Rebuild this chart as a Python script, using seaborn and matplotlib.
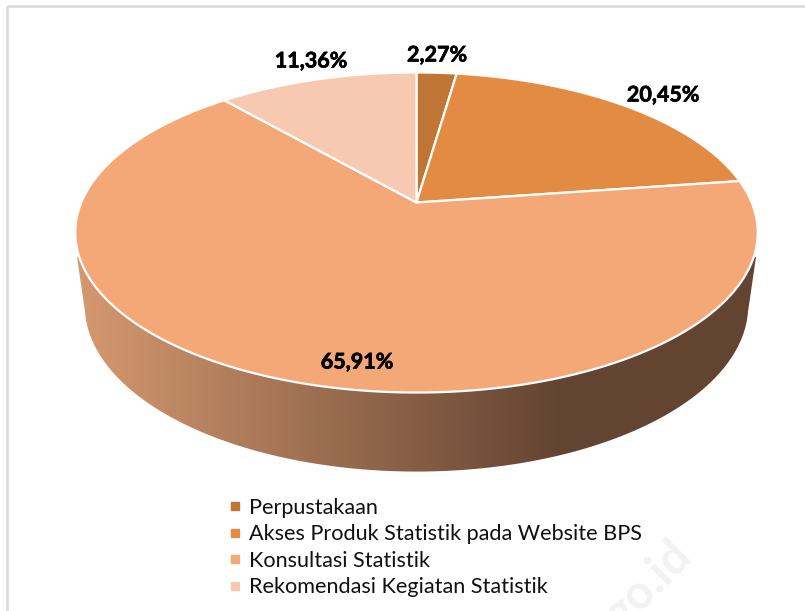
import numpy as np
import matplotlib
matplotlib.use("Agg")
import matplotlib.pyplot as plt
import matplotlib.patheffects as pe
import seaborn as sns
from matplotlib.lines import Line2D
from matplotlib.patches import Polygon, Rectangle

categories = [
    "Perpustakaan",
    "Akses Produk Statistik pada Website BPS",
    "Konsultasi Statistik",
    "Rekomendasi Kegiatan Statistik",
]
values = [2.27, 20.45, 65.91, 11.36]
colors = ["#BF7534", "#E38B42", "#F5A877", "#F7C9B1"]
label_pos = [(437, 55), (663, 95), (357, 362), (311, 61)]

sns.set_theme(style="white")
plt.rcParams["font.family"] = ["Lato", "DejaVu Sans"]

W, H = 805, 611
fig = plt.figure(figsize=(W / 100, H / 100), dpi=100, facecolor="white")
ax = fig.add_axes([0, 0, 1, 1])

wedges, _ = ax.pie(values, startangle=90, counterclock=False,
                   colors=sns.color_palette(colors))


# tilted disc: unit circle from the pie -> pixels, apex sits above the ellipse centre
def project(x, y):
    k, a, b = 0.1875, 335.2, 154.4
    w = 1 + k * y
    return 416.5 + a * x / w, 202.5 - b * y / w


def project_low(x, y):
    px, py = project(x, y)
    return 416.5 + (px - 416.5) * 0.972, 305 + (py - 232) * 1.0375


ax.set_aspect("auto")
ax.set_xlim(0, W)
ax.set_ylim(H, 0)
ax.axis("off")

# gray frame runs off the right and bottom of the picture
ax.add_patch(Rectangle((7, 6), 900, 800, fill=False, ec="#D9D9D9", lw=1.8))

# side wall with the horizontal gradient, straight walls down to the lower rim
t = np.radians(np.linspace(180, 360, 400))
lx, ly = project_low(np.cos(t), np.sin(t))
keep = ly >= 312
side = np.column_stack([lx[keep], ly[keep]])
side = np.vstack([[(77, 257)], side, [(756, 257), (416, 232)]])
side_patch = Polygon(side, closed=True, fc="none", ec="none")
ax.add_patch(side_patch)

light = np.array([212, 152, 112]) / 255
dark = np.array([99, 68, 50]) / 255
xs = np.clip((np.arange(W) - 83) / (560 - 83), 0, 1)
grad = (light[None, :] * (1 - xs[:, None]) + dark[None, :] * xs[:, None])[None, :, :]
img = ax.imshow(grad, extent=(0, W, H, 0), aspect="auto", zorder=1)
img.set_clip_path(side_patch)
ax.set_xlim(0, W)
ax.set_ylim(H, 0)

# top face, angles come from the pie wedges
for wedge, col in zip(wedges, colors):
    wedge.set_visible(False)
    th = np.radians(np.linspace(wedge.theta1, wedge.theta2, 200))
    px, py = project(np.cos(th), np.sin(th))
    pts = np.vstack([project(0, 0), np.column_stack([px, py])])
    ax.add_patch(Polygon(pts, closed=True, fc=col, ec="white", lw=1.6,
                         joinstyle="round", zorder=2))

for val, pos in zip(values, label_pos):
    ax.text(pos[0], pos[1], f"{val:.2f}%".replace(".", ","), ha="center", va="center",
            fontsize=15.5, fontweight="bold", color="black", zorder=3,
            path_effects=[pe.withStroke(linewidth=0.5, foreground="black")])

handles = [Line2D([], [], ls="none", marker="s", ms=6.2, mfc=c, mec=c) for c in colors]
ax.legend(handles, categories, loc="upper left", bbox_to_anchor=(217.5 / W, 1 - 487 / H),
          frameon=False, fontsize=15.6, labelspacing=0.30, handlelength=0.6,
          handletextpad=0.35, borderpad=0, labelcolor="#111111")

# faint watermark, cut by the bottom edge
ax.text(648, 584, "go.id", rotation=45, ha="center", va="center", fontsize=34,
        fontweight="bold", color="#F2F2F2", zorder=0)

fig.savefig("out.png", dpi=100)
